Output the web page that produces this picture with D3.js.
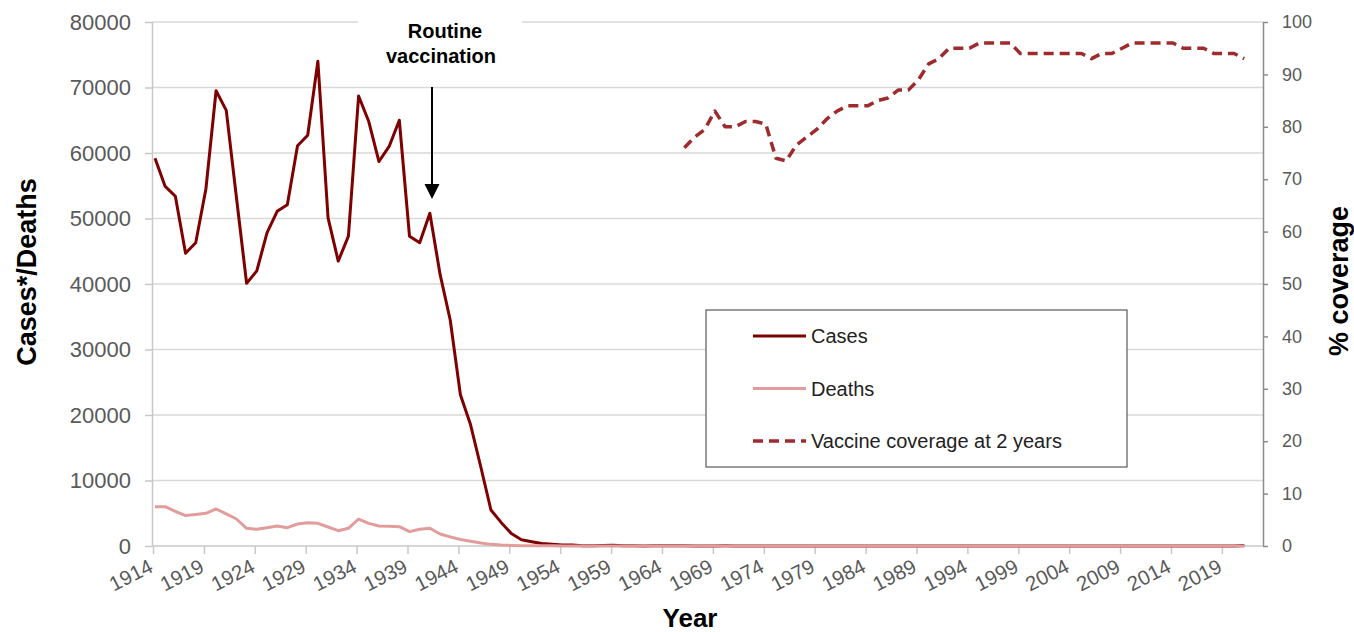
<!DOCTYPE html>
<html>
<head>
<meta charset="utf-8">
<script src="https://cdn.jsdelivr.net/npm/d3@7"></script>
<style>
  body { margin: 0; background: #fff; }
  svg { display: block; font-family: "Liberation Sans", Arial, sans-serif; }
</style>
</head>
<body>
<svg id="chart" width="1354" height="632"></svg>
<script>
// values
const caseStart = 1914;
const cases = [
  59200, 54900, 53400, 44700, 46300, 54500, 69500, 66500, 53200, 40100,
  42000, 47800, 51100, 52100, 61100, 62700, 74000, 50100, 43500, 47300,
  68700, 64800, 58700, 61000, 65000, 47300, 46300, 50800, 41500, 34500,
  23100, 18500, 12100, 5500, 3600, 1900, 960, 660, 380, 270,
  170, 155, 55, 40, 80, 100, 50, 50, 15, 30,
  20, 25, 20, 15, 15, 10, 20, 15, 5, 5,
  5, 10, 10, 5, 5, 5, 5, 5, 5, 5,
  5, 5, 5, 5, 5, 5, 5, 5, 5, 5,
  10, 10, 10, 10, 10, 5, 5, 5, 5, 5,
  5, 5, 5, 5, 5, 5, 5, 5, 5, 5,
  10, 10, 10, 10, 10, 5, 10, 75
];
const deathStart = 1914;
const deaths = [
  6000, 6000, 5300, 4640, 4800, 4990, 5650, 4900, 4120, 2700,
  2550, 2800, 3060, 2800, 3360, 3560, 3460, 2900, 2340, 2700,
  4120, 3460, 3060, 3000, 2950, 2190, 2550, 2700, 1830, 1400,
  1000, 720, 450, 250, 150, 90, 50, 30, 30, 20,
  10, 15, 5, 5, 5, 5, 5, 2, 2, 2,
  1, 1, 1, 1, 0, 0, 0, 0, 0, 0,
  0, 0, 0, 0, 0, 0, 0, 0, 0, 0,
  0, 0, 0, 0, 0, 0, 0, 0, 0, 0,
  0, 0, 0, 0, 0, 0, 0, 0, 0, 0,
  0, 0, 0, 0, 0, 0, 0, 0, 0, 0,
  0, 0, 0, 0, 0, 0, 0, 0
];
const coverageStart = 1966;
const coverage = [
  76, 78, 79.5, 83, 80, 80, 81, 81, 80.5, 74,
  73.5, 76.5, 78, 79.5, 81.5, 83, 84, 84, 84, 85,
  85.5, 87, 87, 89, 92, 93, 95, 95, 95, 96,
  96, 96, 96, 94, 94, 94, 94, 94, 94, 94,
  93, 94, 94, 95, 96, 96, 96, 96, 96, 95,
  95, 95, 94, 94, 94, 93
];
const yearTicks = d3.range(1914, 2020, 5);
const leftTicks = d3.range(0, 80001, 10000);
const rightTicks = d3.range(0, 101, 10);
const legendItems = ["Cases", "Deaths", "Vaccine coverage at 2 years"];

const svg = d3.select('#chart');
const plotLeft = 152, plotRight = 1263, plotTop = 22, plotBottom = 546;

const x = d3.scaleLinear().domain([1914, 2023]).range([155, 155 + 109 * 10.18]);
const yLeft = d3.scaleLinear().domain([0, 80000]).range([plotBottom, plotTop]);
const yRight = d3.scaleLinear().domain([0, 100]).range([plotBottom, plotTop]);

const colCases = '#7f0000';
const colDeaths = '#e29c9c';
const colCover = '#9e2b2d';
const tickCol = '#595959';

// gridlines
svg.append('g')
    .selectAll('line')
    .data(leftTicks.slice(1))
    .join('line')
    .attr('x1', plotLeft).attr('x2', plotRight)
    .attr('y1', d => yLeft(d)).attr('y2', d => yLeft(d))
    .style('stroke', '#d9d9d9')
    .style('stroke-width', 1.5);

// left axis
const gLeft = svg.append('g')
    .attr('transform', `translate(${plotLeft},0)`)
    .call(d3.axisLeft(yLeft).tickValues(leftTicks).tickSize(7).tickSizeOuter(0).tickPadding(14).tickFormat(d3.format('d')));
gLeft.select('.domain').style('stroke', '#c8c8c8').style('stroke-width', 1.5);
gLeft.selectAll('.tick line').style('stroke', '#c8c8c8').style('stroke-width', 1.5);
gLeft.selectAll('.tick text')
    .style('font-size', '22px')
    .style('fill', tickCol)
    .style('font-family', '"Liberation Sans", Arial, sans-serif');

// right axis
const gRight = svg.append('g')
    .attr('transform', `translate(${plotRight},0)`)
    .call(d3.axisRight(yRight).tickValues(rightTicks).tickSize(5).tickSizeOuter(0).tickPadding(14));
gRight.select('.domain').style('stroke', '#8c8c8c').style('stroke-width', 1.5);
gRight.selectAll('.tick line').style('stroke', '#8c8c8c').style('stroke-width', 1.5);
gRight.selectAll('.tick text')
    .style('font-size', '18px')
    .style('fill', tickCol)
    .style('font-family', '"Liberation Sans", Arial, sans-serif');

// bottom axis
svg.append('line')
    .attr('x1', plotLeft).attr('x2', plotRight)
    .attr('y1', plotBottom).attr('y2', plotBottom)
    .style('stroke', '#c8c8c8')
    .style('stroke-width', 1.5);
const gBottom = svg.append('g')
    .attr('transform', `translate(-2,${plotBottom})`)
    .call(d3.axisBottom(x).tickValues(yearTicks).tickSize(8).tickSizeOuter(0).tickFormat(d3.format('d')));
gBottom.select('.domain').remove();
gBottom.selectAll('.tick line').style('stroke', '#c8c8c8').style('stroke-width', 1.5);
gBottom.selectAll('.tick text')
    .attr('y', 0).attr('dy', 0)
    .attr('transform', 'translate(1,25) rotate(-27)')
    .style('text-anchor', 'end')
    .style('font-size', '20.5px')
    .style('fill', tickCol)
    .style('font-family', '"Liberation Sans", Arial, sans-serif');

// series
const line = d3.line();
const pts = (arr, start, scale) => arr.map((v, i) => [x(start + i), scale(v)]);

svg.append('path')
    .attr('d', line(pts(coverage, coverageStart, yRight)))
    .style('fill', 'none')
    .style('stroke', colCover)
    .style('stroke-width', 3.5)
    .style('stroke-dasharray', '10,6')
    .style('stroke-linejoin', 'round');

svg.append('path')
    .attr('d', line(pts(cases, caseStart, yLeft)))
    .style('fill', 'none')
    .style('stroke', colCases)
    .style('stroke-width', 3)
    .style('stroke-linejoin', 'round');

svg.append('path')
    .attr('d', line(pts(deaths, deathStart, yLeft)))
    .style('fill', 'none')
    .style('stroke', colDeaths)
    .style('stroke-width', 3)
    .style('stroke-linejoin', 'round');

// annotation
svg.append('rect')
    .attr('x', 358).attr('y', 14).attr('width', 164).attr('height', 58)
    .style('fill', '#fff');
const note = svg.append('text')
    .attr('x', 442)
    .style('text-anchor', 'middle')
    .style('font-size', '20px')
    .style('font-weight', 'bold')
    .style('fill', '#000');
note.append('tspan').attr('x', 445).attr('y', 38).text('Routine');
note.append('tspan').attr('x', 441).attr('y', 63).text('vaccination');

svg.append('line')
    .attr('x1', 432).attr('x2', 432)
    .attr('y1', 87).attr('y2', 186)
    .style('stroke', '#000')
    .style('stroke-width', 2);
svg.append('path')
    .attr('d', 'M424.5,184 L439.5,184 L432,199 Z')
    .style('fill', '#000');

// legend
const lg = svg.append('g');
lg.append('rect')
    .attr('x', 706).attr('y', 310).attr('width', 421).attr('height', 157)
    .style('fill', '#fff')
    .style('stroke', '#595959')
    .style('stroke-width', 1.2);
const legendStyles = [
    { c: colCases, dash: null, w: 3 },
    { c: colDeaths, dash: null, w: 3 },
    { c: colCover, dash: '10,6', w: 3.5 }
];
legendItems.forEach((name, i) => {
    const ly = 336 + i * 52.5;
    lg.append('line')
        .attr('x1', 753).attr('x2', 806)
        .attr('y1', ly).attr('y2', ly)
        .style('stroke', legendStyles[i].c)
        .style('stroke-width', legendStyles[i].w)
        .style('stroke-dasharray', legendStyles[i].dash);
    lg.append('text')
        .attr('x', 811).attr('y', ly + 7)
        .style('font-size', '20px')
        .style('fill', '#222')
        .text(name);
});

// axis titles
svg.append('text')
    .attr('transform', 'translate(36,272) rotate(-90)')
    .style('text-anchor', 'middle')
    .style('font-size', '27px')
    .style('font-weight', 'bold')
    .text('Cases*/Deaths');

svg.append('text')
    .attr('transform', 'translate(1348,281) rotate(-90)')
    .style('text-anchor', 'middle')
    .style('font-size', '27px')
    .style('font-weight', 'bold')
    .text('% coverage');

svg.append('text')
    .attr('x', 690).attr('y', 627)
    .style('text-anchor', 'middle')
    .style('font-size', '26px')
    .style('font-weight', 'bold')
    .text('Year');
</script>
</body>
</html>
